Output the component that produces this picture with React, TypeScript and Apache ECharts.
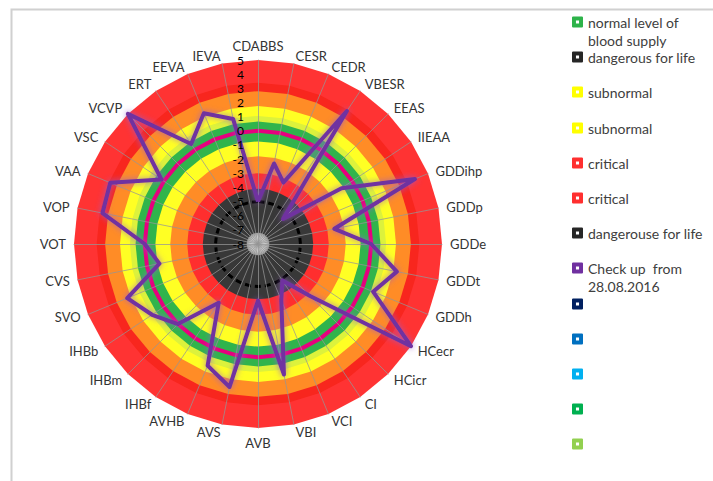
import React, { useEffect, useRef } from "react";
import * as echarts from "echarts";

// ---- data ----
const indicatorNames = [
  "CDABBS", "CESR", "CEDR", "VBESR", "EEAS", "IIEAA", "GDDihp", "GDDp",
  "GDDe", "GDDt", "GDDh", "HCecr", "HCicr", "CI", "VCI", "VBI",
  "AVB", "AVS", "AVHB", "IHBf", "IHBm", "IHBb", "SVO", "CVS",
  "VOT", "VOP", "VAA", "VSC", "VCVP", "ERT", "EEVA", "IEVA",
];
const axisMin = -8;
const axisMax = 5;

const checkupName = "Check up  from 28.08.2016";
const checkupValues = [
  -5, -2.2, -3.3, 3.3, -5.5, -0.9, 4, -2.5,
  0, 2, 0.8, 5, -2.8, -4.9, -3.7, 1.4,
  -4, 2.3, 1.3, -3, 0, 1, 2, -0.9,
  0, 3.2, 3.3, 0.2, 5, 0.5, 2, 1,
];

// constant reference levels (filled rings / circles)
const bandNames = [
  "critical", "critical zone", "precritical", "subnormal", "transition",
  "normal level of blood supply", "norm", "subnormal", "precritical",
  "critical", "dangerous for life", "dangerouse for life", "center",
];
const bandLevels = [5, 3.4, 2.8, 1.75, 1.05, 0.65, 0, -0.75, -1.8, -3.0, -4.1, -5, -7.2];

const legendNames = [
  "normal level of blood supply", "dangerous for life", "subnormal", "subnormal",
  "critical", "critical", "dangerouse for life", checkupName,
  " ", "  ", "   ", "    ", "     ",
];
const legendFirstLine: Record<string, string> = {
  "normal level of blood supply": "normal level of",
  [checkupName]: "Check up  from",
};
const legendSecondLine: Record<string, string> = {
  "normal level of blood supply": "blood supply",
  [checkupName]: "28.08.2016",
};

// ---- styles ----
const bandFill = [
  "#FF3333", "#F8261E", "#FF8C26", "#FFFF24", "#DCF23C", "#30B44C", null,
  "#FFFF24", "#FF8C26", "#FF2E2E", "#383838", null, "radial",
];
const bandIcon = [
  "#FF2F2F", "#FF2F2F", "#FF8C26", "#FFFF00", "#DCF23C", "#2DB34A", "#E6007E",
  "#FFFF00", "#FF8C26", "#FF2F2F", "#262626", "#262626", "#BBBBBB",
];
const extraLegendColors = ["#002060", "#0070C0", "#00B0F0", "#00B050", "#92D050"];

const toRadarOrder = <T,>(arr: T[]): T[] => [arr[0], ...arr.slice(1).reverse()];

const legendIcon =
  "path://M1,0L9,0Q10,0,10,1L10,9Q10,10,9,10L1,10Q0,10,0,9L0,1Q0,0,1,0ZM3.6,3.6L3.6,6.4L6.4,6.4L6.4,3.6Z";

export default function App() {
  const ref = useRef<HTMLDivElement>(null);
  useEffect(() => {
    if (!ref.current) return;
    const chart = echarts.init(ref.current, null, { renderer: "svg" });
    const font = "Lato";
    const center = [258, 244];
    const radius = 184;
    const legendLeft = 572;
    const legendY = (i: number) => 22 + 35.2 * i;

    const bandItems: any[] = bandNames.map((name, i) => {
      const value = toRadarOrder(indicatorNames.map(() => bandLevels[i]));
      const fill = bandFill[i];
      const item: any = {
        name,
        value,
        itemStyle: { color: bandIcon[i] },
        lineStyle: { width: 0, opacity: 0 },
      };
      if (fill === "radial") {
        item.areaStyle = {
          opacity: 1,
          color: {
            type: "radial", x: 0.5, y: 0.5, r: 0.5,
            colorStops: [
              { offset: 0, color: "#E8E8E8" },
              { offset: 0.6, color: "#CFCFCF" },
              { offset: 1, color: "#9A9A9A" },
            ],
          },
        };
      } else if (fill) {
        item.areaStyle = { color: fill, opacity: 1 };
      }
      if (name === "norm") {
        item.lineStyle = { color: "#E6007E", width: 4, opacity: 1 };
      }
      if (name === "dangerouse for life") {
        item.lineStyle = { color: "#000000", width: 3, type: [6, 4], opacity: 1 };
      }
      return item;
    });
    extraLegendColors.forEach((c, k) => {
      bandItems.push({
        name: legendNames[8 + k],
        value: toRadarOrder(indicatorNames.map(() => axisMin)),
        itemStyle: { color: c },
        lineStyle: { width: 0, opacity: 0 },
      });
    });

    const legends = legendNames.map((name, i) => ({
      data: [name],
      orient: "vertical",
      left: legendLeft,
      top: Math.round(legendY(i) - 9),
      padding: 0,
      itemWidth: 11,
      itemHeight: 11,
      itemGap: 0,
      icon: legendIcon,
      selectedMode: false,
      itemStyle: { borderWidth: 0 },
      formatter: (n: string) => legendFirstLine[n] ?? n,
      textStyle: { color: "#404040", fontSize: 14, fontFamily: font, lineHeight: 18 },
    }));

    const secondLines = legendNames
      .map((name, i) => ({ name, i }))
      .filter(({ name }) => legendSecondLine[name])
      .map(({ name, i }) => ({
        type: "text",
        left: legendLeft + 16,
        top: Math.round(legendY(i) + 18 - 9),
        silent: true,
        style: {
          text: legendSecondLine[name],
          fill: "#404040",
          fontSize: 14,
          fontFamily: font,
          lineHeight: 18,
        },
      }));

    chart.setOption({
      animation: false,
      backgroundColor: "#ffffff",
      graphic: [
        {
          type: "rect",
          left: 9,
          top: 7,
          shape: { width: 760, height: 520 },
          style: { fill: "none", stroke: "#D0D0D0", lineWidth: 2 },
          silent: true,
        },
        ...secondLines,
      ],
      legend: legends,
      radar: {
        center,
        radius,
        startAngle: 90,
        splitNumber: 13,
        shape: "circle",
        z: 3,
        nameGap: 8,
        axisName: { color: "#333333", fontSize: 13, fontFamily: font },
        indicator: toRadarOrder(indicatorNames).map((n) => ({ name: n, min: axisMin, max: axisMax })),
        axisLine: { lineStyle: { color: "rgba(150,150,150,0.75)", width: 1 } },
        splitLine: { show: false },
        splitArea: { show: false },
        axisTick: { show: false },
        axisLabel: { show: false },
      },
      polar: { center, radius },
      angleAxis: { type: "value", show: false, startAngle: 90, min: 0, max: 360 },
      radiusAxis: {
        type: "value",
        min: axisMin,
        max: axisMax,
        interval: 1,
        z: 10,
        axisLine: { show: false },
        axisTick: { show: false },
        splitLine: { show: false },
        axisLabel: { color: "#000000", fontSize: 12, lineHeight: 12, fontFamily: font, margin: 14 },
      },
      series: [
        { type: "radar", z: 2, symbol: "none", silent: true, data: bandItems },
        {
          type: "radar",
          z: 4,
          symbol: "none",
          silent: true,
          data: [
            {
              name: checkupName,
              value: toRadarOrder(checkupValues),
              itemStyle: { color: "#7030A0" },
              lineStyle: {
                color: "#7030A0",
                width: 4,
                shadowBlur: 6,
                shadowColor: "rgba(150,90,210,0.8)",
              },
            },
          ],
        },
      ],
    });
    return () => chart.dispose();
  }, []);
  return (
    <div
      ref={ref}
      style={{ position: "fixed", left: 0, top: 0, width: 713, height: 481 }}
    />
  );
}
